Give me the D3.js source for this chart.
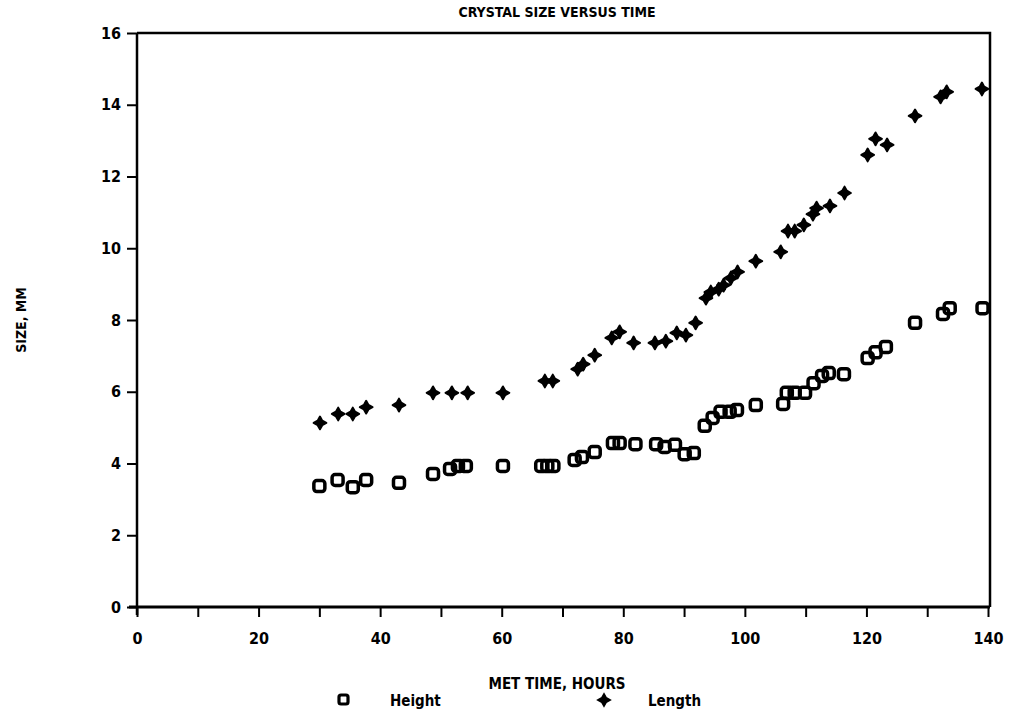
<!DOCTYPE html>
<html>
<head>
<meta charset="utf-8">
<script src="https://cdn.jsdelivr.net/npm/d3@7"></script>
<style>
  body { margin: 0; background: #fff; }
  text { font-family: "DejaVu Sans Condensed", "DejaVu Sans", sans-serif; font-weight: bold; fill: #000; }
</style>
</head>
<body>
<svg id="chart"></svg>
<script>
// Height (squares)
const heightTime = [30, 33, 35.5, 37.7, 43.1, 48.7, 51.5, 52.8, 54.1, 60.2, 66.5, 67.5, 68.5, 72, 73.2, 75.3,
    78.3, 79.4, 82, 85.4, 86.8, 88.5, 90.1, 91.6, 93.4, 94.7, 96, 97.5, 98.7, 101.8, 106.3, 106.9, 108.2,
    109.9, 111.3, 112.7, 113.8, 116.3, 120.2, 121.5, 123.2, 128, 132.6, 133.7, 139.1];
const heightSize = [3.37, 3.54, 3.34, 3.54, 3.46, 3.71, 3.85, 3.93, 3.93, 3.93, 3.93, 3.93, 3.93, 4.1, 4.18, 4.32,
    4.57, 4.57, 4.54, 4.54, 4.46, 4.52, 4.26, 4.29, 5.05, 5.27, 5.44, 5.44, 5.49, 5.63, 5.66, 5.97, 5.97,
    5.97, 6.24, 6.44, 6.52, 6.49, 6.94, 7.1, 7.25, 7.92, 8.17, 8.33, 8.33];

// Length (stars)
const lengthTime = [30.1, 33.1, 35.5, 37.7, 43.1, 48.7, 51.8, 54.4, 60.2, 67.1, 68.4, 72.5, 73.4, 75.3, 78.1,
    79.4, 81.7, 85.2, 87, 88.8, 90.3, 91.9, 93.6, 94.4, 95.7, 96.5, 97.7, 98.8, 101.8, 105.9, 107.1, 108.2,
    109.7, 111.2, 111.8, 114, 116.4, 120.2, 121.5, 123.4, 128, 132.2, 133.2, 139];
const lengthSize = [5.13, 5.38, 5.38, 5.57, 5.63, 5.97, 5.97, 5.97, 5.97, 6.3, 6.3, 6.63, 6.77, 7.02, 7.5,
    7.67, 7.36, 7.36, 7.41, 7.64, 7.58, 7.92, 8.61, 8.78, 8.86, 8.97, 9.17, 9.34, 9.64, 9.9, 10.48, 10.48,
    10.65, 10.95, 11.12, 11.18, 11.54, 12.6, 13.05, 12.88, 13.69, 14.22, 14.36, 14.44];

const xTickLabels = [0, 20, 40, 60, 80, 100, 120, 140];
const yTickLabels = [0, 2, 4, 6, 8, 10, 12, 14, 16];

const width = 1013, height = 714;
const margin = {top: 33, right: 25, bottom: 107, left: 137};

const svg = d3.select("#chart").attr("width", width).attr("height", height);

const x = d3.scaleLinear().domain([0, 140]).range([margin.left, width - margin.right]);
const y = d3.scaleLinear().domain([0, 16]).range([height - margin.bottom, margin.top]);

// 4 pointed star used for Length (fat, almost a diamond)
const star4 = {
    draw(ctx, size) {
        const r = Math.sqrt(size) * 0.75, k = r * 0.36;
        ctx.moveTo(0, -r);
        ctx.lineTo(k, -k);
        ctx.lineTo(r, 0);
        ctx.lineTo(k, k);
        ctx.lineTo(0, r);
        ctx.lineTo(-k, k);
        ctx.lineTo(-r, 0);
        ctx.lineTo(-k, -k);
        ctx.closePath();
    }
};

// frame
svg.append("path")
    .attr("d", `M${x(0)},${y(16)}H${x(140) + 2}V${y(0)}`)
    .attr("fill", "none").attr("stroke", "#000").attr("stroke-width", 2.5);

// x axis
const xAxis = svg.append("g")
    .attr("transform", `translate(0,${y(0)})`)
    .call(d3.axisBottom(x).tickValues(d3.range(0, 141, 10)).tickSize(10)
        .tickFormat(d => xTickLabels.includes(d) ? d : ""));
xAxis.select(".domain").attr("stroke-width", 3).attr("d", `M${x(0) - 8},0H${x(140) + 2}`);
xAxis.selectAll(".tick line").attr("stroke-width", 2);
xAxis.selectAll(".tick text").attr("dy", "1.5em").style("font-size", "16px");

// y axis
const yAxis = svg.append("g")
    .attr("transform", `translate(${x(0)},0)`)
    .call(d3.axisLeft(y).tickValues(yTickLabels).tickSize(10).tickPadding(6));
yAxis.select(".domain").attr("stroke-width", 2.5).attr("d", `M0,${y(16)}V${y(0) + 8}`);
yAxis.selectAll(".tick line").attr("stroke-width", 2);
yAxis.selectAll(".tick text").style("font-size", "16px");

// marks
const heightData = heightTime.map((t, i) => ({t, v: heightSize[i]}));
const lengthData = lengthTime.map((t, i) => ({t, v: lengthSize[i]}));

svg.append("g").selectAll("rect")
    .data(heightData)
    .join("rect")
    .attr("x", d => x(d.t) - 5.5)
    .attr("y", d => y(d.v) - 5.5)
    .attr("width", 11).attr("height", 11)
    .attr("rx", 3)
    .attr("fill", "none").attr("stroke", "#000").attr("stroke-width", 3.5);

svg.append("g").selectAll("path")
    .data(lengthData)
    .join("path")
    .attr("transform", d => `translate(${x(d.t)},${y(d.v)})`)
    .attr("d", d3.symbol().type(star4).size(72))
    .attr("fill", "#000").attr("stroke", "#000").attr("stroke-width", 2).attr("stroke-linejoin", "round");

// titles
svg.append("text")
    .attr("x", 557).attr("y", 17)
    .attr("text-anchor", "middle").style("font-size", "14px")
    .text("CRYSTAL SIZE VERSUS TIME");

svg.append("text")
    .attr("transform", `translate(26,${y(8)}) rotate(-90)`)
    .attr("text-anchor", "middle").style("font-size", "14px")
    .text("SIZE, MM");

svg.append("text")
    .attr("x", 557).attr("y", 689)
    .attr("text-anchor", "middle").style("font-size", "15px")
    .text("MET TIME, HOURS");

// legend
const legend = svg.append("g");
legend.append("rect")
    .attr("x", 339).attr("y", 695).attr("width", 9).attr("height", 9).attr("rx", 2)
    .attr("fill", "none").attr("stroke", "#000").attr("stroke-width", 3.2);
legend.append("text").attr("x", 390).attr("y", 706).style("font-size", "15px").text("Height");
legend.append("path")
    .attr("transform", "translate(604,700)")
    .attr("d", d3.symbol().type(star4).size(60))
    .attr("fill", "#000").attr("stroke", "#000").attr("stroke-width", 2);
legend.append("text").attr("x", 648).attr("y", 706).style("font-size", "15px").text("Length");
</script>
</body>
</html>
